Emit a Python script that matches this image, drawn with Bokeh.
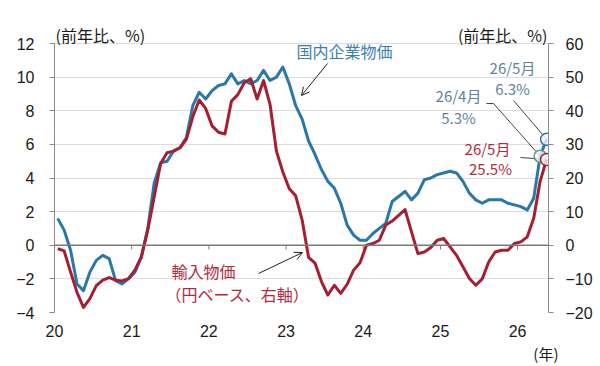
from bokeh.plotting import figure
from bokeh.models import (Range1d, LinearAxis, FixedTicker, Label, Arrow, OpenHead,
                          Span, CustomJSTickFormatter, Title)
from bokeh.embed import file_html
from bokeh.resources import INLINE

# ---- data -------------------------------------------------------------
years = [2020, 2021, 2022, 2023, 2024, 2025, 2026]
year_labels = ["20", "21", "22", "23", "24", "25", "26"]
left_ticks = [-4, -2, 0, 2, 4, 6, 8, 10, 12]
right_ticks = [-20, -10, 0, 10, 20, 30, 40, 50, 60]

# Domestic corporate goods price index, y/y %, monthly Jan 2020 - May 2026
cgpi = [
    1.6, 0.9, -0.3, -2.3, -2.7, -1.6, -0.9, -0.6, -0.8, -2.1, -2.3, -2.0,
    -1.6, -0.7, 1.0, 3.7, 4.9, 5.0, 5.6, 5.8, 6.4, 8.3, 9.1, 8.7,
    9.2, 9.5, 9.6, 10.2, 9.6, 9.8, 9.6, 9.8, 10.4, 9.8, 10.0, 10.6,
    9.6, 8.3, 7.5, 6.2, 5.4, 4.5, 3.8, 3.4, 2.5, 1.2, 0.6, 0.3,
    0.3, 0.7, 1.0, 1.3, 2.6, 2.9, 3.2, 2.7, 3.1, 3.9, 4.0, 4.2,
    4.3, 4.4, 4.3, 3.8, 3.1, 2.7, 2.5, 2.7, 2.7, 2.7, 2.5, 2.4,
    2.3, 2.1, 2.8, 5.3, 6.3,
]
# Import price index (yen basis), y/y %, right axis
import_prices = [
    -1.0, -1.7, -8.0, -14.0, -18.5, -15.9, -12.0, -10.4, -9.6, -10.4, -10.6, -9.9,
    -7.4, -3.5, 4.5, 14.4, 24.3, 27.5, 28.0, 29.0, 31.5, 38.2, 43.2, 40.7,
    35.5, 33.6, 33.1, 42.8, 44.8, 48.3, 49.5, 43.5, 49.0, 42.0, 28.0, 21.8,
    16.8, 14.7, 7.5, -3.6, -5.3, -10.8, -14.8, -11.9, -14.3, -11.6, -7.4, -5.2,
    0.0, 0.5, 1.5, 6.0, 7.2, 8.9, 10.6, 4.0, -2.5, -2.0, -0.7, 1.5,
    2.0, -0.5, -3.0, -6.4, -9.9, -11.9, -10.0, -5.0, -2.0, -1.5, -1.5, 0.5,
    1.0, 2.5, 8.0, 19.0, 25.5,
]
callout_months = ["26/4月", "26/5月"]

# month midpoints on a fractional-year axis
t = [years[0] + (i + 0.5) / 12 for i in range(len(cgpi))]

BLUE = "#2a77a9"
RED = "#a51f33"
BLUE_TXT = "#3b7fae"
CALL_BLUE = "#62839e"
RED_TXT = "#b02c3e"
AXIS = "#8c8c8c"
JP = "Noto Sans CJK JP"

X0, X1 = 2020.0, 2026.4
Y0, Y1 = left_ticks[0], left_ticks[-1]
FL, FR, FT, FB = 54, 548, 43, 312  # plotting area edges in px
TOP = 20                           # frame extends above the 12 line for the captions
UNIT = (Y1 - Y0) / (FB - FT)       # data units per px
Y1_EXT = Y1 + (FT - TOP) * UNIT
RATIO = (right_ticks[-1] - right_ticks[0]) / (Y1 - Y0)


def sx(px):
    return X0 + (px - FL) * (X1 - X0) / (FR - FL)


def sy(py):
    return Y1 - (py - FT) * UNIT


p = figure(width=600, height=366, x_range=Range1d(X0, X1),
           y_range=Range1d(Y0, Y1_EXT),
           output_backend="svg", toolbar_location=None,
           min_border_left=FL, min_border_right=600 - FR,
           min_border_top=TOP, min_border_bottom=366 - FB)
p.extra_y_ranges = {"right": Range1d(right_ticks[0],
                                     right_ticks[0] + (Y1_EXT - Y0) * RATIO)}
p.outline_line_color = None
p.background_fill_color = "white"
p.border_fill_color = "white"

minus_fmt = CustomJSTickFormatter(
    code="return tick < 0 ? '\u2212' + Math.abs(tick) : String(tick);")

# x axis: year labels only, ticks live on the zero line
xa = p.xaxis[0]
xa.ticker = FixedTicker(ticks=years)
xa.major_label_overrides = {y: s for y, s in zip(years, year_labels)}
xa.axis_line_color = None
xa.major_tick_line_color = None
xa.minor_tick_line_color = None
xa.major_tick_out = 0
xa.major_label_standoff = 12
xa.major_label_text_font = "Liberation Sans"
xa.major_label_text_font_size = "16px"
xa.major_label_text_color = "#1a1a1a"

ya = p.yaxis[0]
ya.ticker = FixedTicker(ticks=left_ticks)
ya.bounds = (Y0, Y1)
ya.formatter = minus_fmt
ya.axis_line_color = AXIS
ya.major_tick_line_color = AXIS
ya.minor_tick_line_color = None
ya.major_tick_in = 0
ya.major_tick_out = 5
ya.major_label_standoff = 15
ya.major_label_text_font = "Liberation Sans"
ya.major_label_text_font_size = "16px"
ya.major_label_text_color = "#1a1a1a"

ra = LinearAxis(y_range_name="right", ticker=FixedTicker(ticks=right_ticks),
                formatter=minus_fmt, bounds=(right_ticks[0], right_ticks[-1]))
ra.axis_line_color = AXIS
ra.major_tick_line_color = AXIS
ra.minor_tick_line_color = None
ra.major_tick_in = 0
ra.major_tick_out = 5
ra.major_label_standoff = 12
ra.major_label_text_font = "Liberation Sans"
ra.major_label_text_font_size = "16px"
ra.major_label_text_color = "#1a1a1a"
p.add_layout(ra, "right")

# unit of the x axis, under the year labels at the right end
p.add_layout(Title(text="(年)", align="right", offset=-10, standoff=2,
                   text_font=JP, text_font_size="15px", text_font_style="normal",
                   text_color="#1a1a1a"), "below")

p.xgrid.visible = False
p.ygrid.ticker = FixedTicker(ticks=left_ticks)
p.ygrid.grid_line_color = "#dcdcdc"
p.ygrid.grid_line_width = 1

# zero line with year ticks
p.add_layout(Span(location=0, dimension="width", line_color="#7a7a7a", line_width=1.5))
p.segment(x0=years[1:], y0=[0] * 6, x1=years[1:], y1=[-0.25] * 6,
          line_color="#7a7a7a", line_width=1)

# series
p.line(t, cgpi, line_color=BLUE, line_width=3, line_join="round")
p.line(t, import_prices, y_range_name="right", line_color=RED, line_width=3,
       line_join="round")

# callout leader lines
LEAD = "#444444"
p.line([sx(513), t[-1]], [sy(100), cgpi[-1]], line_color=LEAD, line_width=1)
p.line([sx(486), sx(493), t[-2]], [sy(103), sy(103), cgpi[-2]], line_color=LEAD,
       line_width=1)
p.line([sx(520), t[-1]], [sy(157), import_prices[-1] / RATIO], line_color=LEAD,
       line_width=1)

# highlighted points
p.scatter([t[-2], t[-1]], [cgpi[-2], cgpi[-1]], size=12, marker="circle",
          fill_color="white", fill_alpha=0.75, line_color=["#5f9a8c", BLUE],
          line_width=1.5)
p.scatter([t[-1]], [import_prices[-1]], y_range_name="right", size=12,
          marker="circle", fill_color="white", fill_alpha=0.75, line_color=RED,
          line_width=1.5)


def label(px, py, text, color, size="15px", align="left", font=JP):
    p.add_layout(Label(x=sx(px), y=sy(py), text=text, text_color=color,
                       text_font=font, text_font_size=size, text_align=align,
                       text_baseline="middle"))


# unit captions of the two value axes
label(55, 34, "(前年比、%)", "#1a1a1a", "16px")
label(547, 34, "(前年比、%)", "#1a1a1a", "16px", align="right")

# series names with arrows
label(296, 50, "国内企業物価", BLUE_TXT, "16px")
p.add_layout(Arrow(x_start=sx(327), y_start=sy(63), x_end=sx(301), y_end=sy(95),
                   line_color="#222222", line_width=1,
                   end=OpenHead(size=8, line_color="#222222", line_width=1)))
label(171, 270, "輸入物価", RED_TXT, "16px")
label(165, 293, "（円ベース、右軸）", RED_TXT, "16px")
p.add_layout(Arrow(x_start=sx(258), y_start=sy(273), x_end=sx(302), y_end=sy(252),
                   line_color="#222222", line_width=1,
                   end=OpenHead(size=8, line_color="#222222", line_width=1)))

# callout texts
label(512, 67, callout_months[1], CALL_BLUE, "15px", "center")
label(512, 88, f"{cgpi[-1]:.1f}%", CALL_BLUE, "15px", "center")
label(458, 95, callout_months[0], CALL_BLUE, "15px", "center")
label(458, 117, f"{cgpi[-2]:.1f}%", CALL_BLUE, "15px", "center")
label(487, 148, callout_months[1], RED_TXT, "15px", "center")
label(490, 168, f"{import_prices[-1]:.1f}%", RED_TXT, "15px", "center")

open("out.html", "w").write(file_html(p, INLINE))
